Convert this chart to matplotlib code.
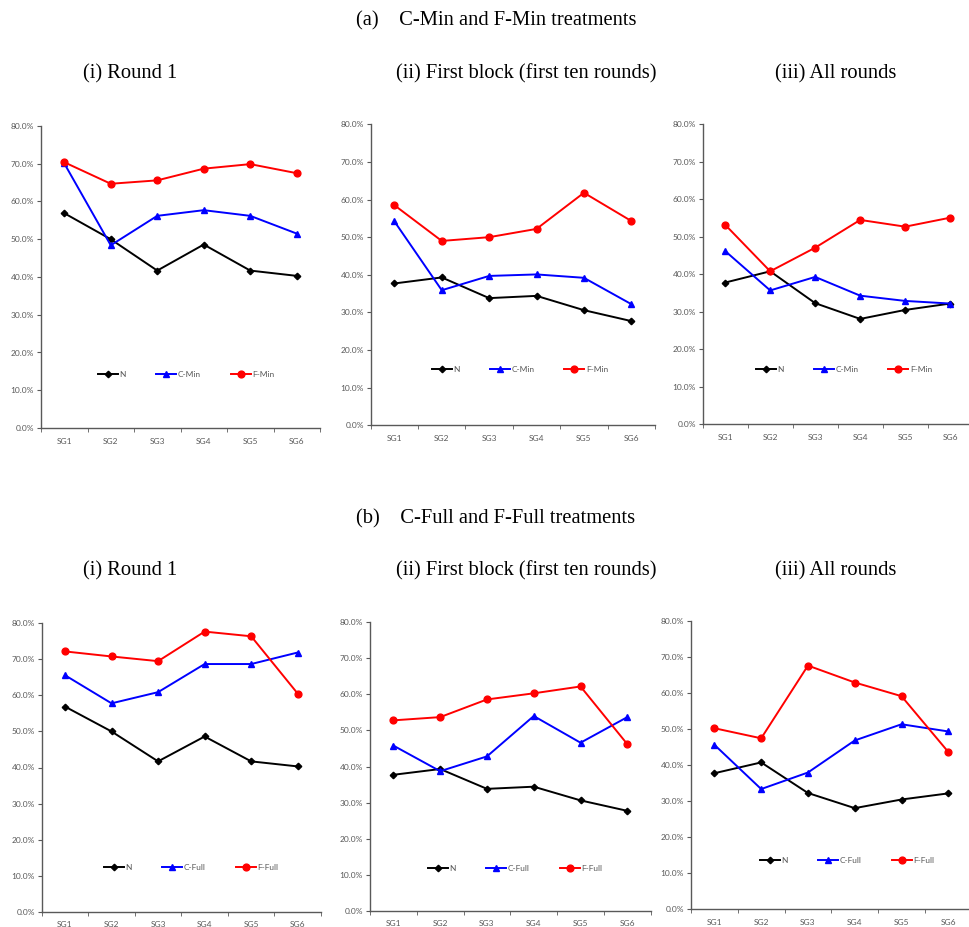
import numpy as np
import matplotlib
matplotlib.use("Agg")
import matplotlib.pyplot as plt
from matplotlib.ticker import PercentFormatter

# categories
groups = ["SG1", "SG2", "SG3", "SG4", "SG5", "SG6"]

# N series (shared by both treatment rows)
n_round1 = [56.9, 50.0, 41.7, 48.6, 41.7, 40.3]
n_block1 = [37.7, 39.3, 33.8, 34.4, 30.6, 27.7]
n_all = [37.8, 40.8, 32.3, 28.1, 30.5, 32.2]

# (a) Min treatments
cmin_round1 = [70.1, 48.4, 56.2, 57.7, 56.2, 51.5]
cmin_block1 = [54.2, 35.9, 39.7, 40.1, 39.2, 32.2]
cmin_all = [46.2, 35.7, 39.3, 34.3, 32.9, 32.2]
fmin_round1 = [70.4, 64.7, 65.6, 68.7, 69.9, 67.5]
fmin_block1 = [58.5, 49.0, 50.0, 52.2, 61.8, 54.3]
fmin_all = [53.2, 40.8, 47.1, 54.5, 52.7, 55.1]

# (b) Full treatments
cfull_round1 = [65.6, 57.8, 60.9, 68.7, 68.7, 71.9]
cfull_block1 = [45.8, 38.7, 42.8, 54.0, 46.6, 53.7]
cfull_all = [45.7, 33.4, 38.0, 46.9, 51.4, 49.4]
ffull_round1 = [72.2, 70.8, 69.5, 77.7, 76.4, 60.5]
ffull_block1 = [52.8, 53.7, 58.6, 60.3, 62.2, 46.2]
ffull_all = [50.3, 47.5, 67.7, 63.0, 59.2, 43.7]

W, H = 969, 927
fig = plt.figure(figsize=(W / 100, H / 100), dpi=100)

def rect(l, r, t, b):
    return [l / W, 1 - b / H, (r - l) / W, (b - t) / H]

serif = "Liberation Serif"
sans = "Lato"
grey = "#595959"

def panel(box, n, c, f, cname, fname, leg_xy):
    ax = fig.add_axes(rect(*box))
    x = np.arange(len(groups))
    ax.plot(x, n, color="black", marker="D", ms=3.3, lw=1.4, label="N")
    ax.plot(x, c, color="#0000ff", marker="^", ms=4.6, lw=1.4, label=cname)
    ax.plot(x, f, color="#ff0000", marker="o", ms=4.9, lw=1.4, label=fname)
    ax.set_xlim(-0.5, len(groups) - 0.5)
    ax.set_ylim(0, 80)
    ax.set_yticks(np.arange(0, 81, 10))
    ax.yaxis.set_major_formatter(PercentFormatter(decimals=1))
    ax.set_xticks(x)
    ax.set_xticklabels(groups)
    ax.set_xticks(np.arange(-0.5, len(groups)), minor=True)
    ax.tick_params(axis="x", which="major", length=0, pad=7,
                   labelsize=6, labelcolor=grey)
    ax.tick_params(axis="x", which="minor", length=3, color=grey, direction="out")
    ax.tick_params(axis="y", length=3, color=grey, labelsize=6, labelcolor=grey, pad=2)
    for lab in ax.get_xticklabels() + ax.get_yticklabels():
        lab.set_family(sans)
    for s in ["top", "right"]:
        ax.spines[s].set_visible(False)
    for s in ["left", "bottom"]:
        ax.spines[s].set_color(grey)
        ax.spines[s].set_linewidth(1.0)
    leg = ax.legend(loc="center", bbox_to_anchor=leg_xy, ncol=3, frameon=False,
                    handlelength=2.4, handletextpad=0.2, columnspacing=3.6,
                    prop={"family": sans, "size": 6})
    for t in leg.get_texts():
        t.set_color(grey)
    return ax

# row (a)
panel((41, 320, 126, 428), n_round1, cmin_round1, fmin_round1, "C-Min", "F-Min", (0.52, 0.176))
panel((370.7, 655, 124.3, 425.3), n_block1, cmin_block1, fmin_block1, "C-Min", "F-Min", (0.525, 0.186))
panel((702.7, 972.7, 124.3, 424.3), n_all, cmin_all, fmin_all, "C-Min", "F-Min", (0.523, 0.183))

# row (b)
panel((41.7, 321, 623.3, 911.7), n_round1, cfull_round1, ffull_round1, "C-Full", "F-Full", (0.535, 0.153))
panel((370, 650.7, 622.3, 910.7), n_block1, cfull_block1, ffull_block1, "C-Full", "F-Full", (0.517, 0.146))
panel((691, 971.7, 621.3, 909.3), n_all, cfull_all, ffull_all, "C-Full", "F-Full", (0.556, 0.168))

def ftext(x, y, s, size):
    fig.text(x / W, 1 - y / H, s, ha="center", va="center", family=serif, fontsize=size)

ftext(496, 21, "(a)    C-Min and F-Min treatments", 14.8)
ftext(130, 74, "(i) Round 1", 14.8)
ftext(526, 74, "(ii) First block (first ten rounds)", 14.8)
ftext(836, 74, "(iii) All rounds", 14.8)

ftext(496, 519, "(b)    C-Full and F-Full treatments", 14.8)
ftext(130, 571, "(i) Round 1", 14.8)
ftext(526, 571, "(ii) First block (first ten rounds)", 14.8)
ftext(836, 571, "(iii) All rounds", 14.8)

fig.savefig("out.png", dpi=100)
